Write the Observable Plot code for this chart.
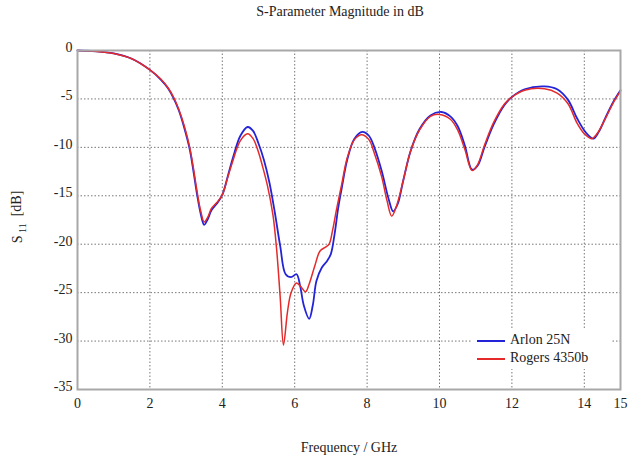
<!DOCTYPE html>
<html>
<head>
<meta charset="utf-8">
<script src="https://cdn.jsdelivr.net/npm/d3@7"></script>
<script src="https://cdn.jsdelivr.net/npm/@observablehq/plot@0.6"></script>
<style>
  body { margin: 0; background: #fff; }
  #wrap { position: relative; width: 628px; height: 459px; font-family: "Liberation Serif", "DejaVu Serif", serif; }
  #title { position: absolute; left: 0; top: 4px; width: 680px; text-align: center; font-size: 14px; color: #222; }
  #chart { position: absolute; left: 0; top: 30px; }
  #chart svg, #chart svg text { font-family: "Liberation Serif", "DejaVu Serif", serif !important; }
  #legend { position: absolute; left: 472px; top: 329px; width: 140px; height: 40px; background: #fff; font-size: 14px; color: #222; }
  .item { position: absolute; left: 5px; height: 18px; line-height: 18px; white-space: nowrap; }
  .swatch { display: inline-block; width: 28px; height: 2px; vertical-align: middle; margin-right: 5px; }
</style>
</head>
<body>
<div id="wrap">
  <div id="title">S-Parameter Magnitude in dB</div>
  <div id="chart"></div>
  <div id="legend"></div>
</div>
<script>
const seriesNames = ["Arlon 25N", "Rogers 4350b"];
const seriesColors = ["#2323d8", "#e42a2a"];

const arlonFreq = [0, 0.5, 1.0, 1.5, 2.0, 2.3, 2.5, 2.65, 2.8, 2.95, 3.1, 3.2, 3.3, 3.4, 3.5, 3.6, 3.7, 3.85, 4.0, 4.15, 4.3, 4.5, 4.7, 4.85, 5.0, 5.15, 5.3, 5.45, 5.6, 5.75, 5.9, 6.05, 6.15, 6.25, 6.4, 6.5, 6.6, 6.75, 6.9, 7.0, 7.1, 7.2, 7.3, 7.45, 7.65, 7.87, 8.05, 8.2, 8.4, 8.6, 8.72, 8.85, 9.0, 9.2, 9.45, 9.75, 10.05, 10.3, 10.5, 10.7, 10.9, 11.05, 11.25, 11.5, 11.8, 12.0, 12.35, 12.9, 13.25, 13.55, 13.8, 14.05, 14.25, 14.4, 14.6, 14.8, 15.0];
const arlonDb = [0, -0.08, -0.3, -0.85, -2.0, -3.0, -3.9, -4.9, -6.2, -8.0, -10.2, -12.4, -14.8, -16.8, -18.0, -17.4, -16.5, -15.8, -14.9, -13.0, -11.0, -8.8, -7.9, -8.3, -9.6, -11.3, -13.6, -16.7, -20.2, -23.1, -23.4, -23.1, -24.3, -26.3, -27.7, -26.3, -23.8, -22.4, -21.7, -21.0, -19.0, -16.3, -14.2, -11.3, -9.1, -8.4, -8.8, -10.0, -12.4, -15.4, -16.6, -15.8, -13.4, -10.4, -8.1, -6.7, -6.35, -6.8, -7.8, -9.8, -12.3, -11.9, -9.9, -7.6, -5.6, -4.8, -4.0, -3.7, -4.0, -5.1, -7.0, -8.5, -9.1, -8.4, -6.8, -5.3, -4.1];

const rogersFreq = [0, 0.5, 1.0, 1.5, 2.0, 2.3, 2.5, 2.65, 2.8, 2.95, 3.1, 3.2, 3.3, 3.4, 3.5, 3.6, 3.7, 3.85, 4.0, 4.15, 4.3, 4.5, 4.7, 4.85, 5.0, 5.1, 5.25, 5.4, 5.5, 5.6, 5.69, 5.8, 5.9, 6.05, 6.15, 6.3, 6.4, 6.55, 6.7, 6.85, 6.95, 7.05, 7.15, 7.3, 7.45, 7.65, 7.85, 8.05, 8.2, 8.4, 8.55, 8.68, 8.8, 9.0, 9.2, 9.45, 9.75, 10.0, 10.3, 10.5, 10.7, 10.9, 11.05, 11.25, 11.5, 11.8, 12.0, 12.35, 12.9, 13.25, 13.55, 13.8, 14.0, 14.2, 14.35, 14.6, 14.8, 15.0];
const rogersDb = [0, -0.08, -0.3, -0.85, -2.0, -2.95, -3.85, -4.8, -6.1, -7.8, -10.0, -12.1, -14.5, -16.5, -17.7, -17.2, -16.3, -15.7, -14.9, -13.1, -11.3, -9.3, -8.6, -9.1, -10.5, -11.8, -14.0, -17.0, -20.5, -25.5, -30.4, -27.0, -25.0, -24.0, -24.3, -24.9, -24.1, -22.3, -20.7, -20.3, -20.0, -18.5, -16.5, -13.8, -11.1, -9.2, -8.7, -9.2, -10.6, -13.0, -15.5, -17.1, -16.2, -13.4, -10.4, -8.2, -6.8, -6.6, -7.1, -8.2, -10.2, -12.4, -11.8, -9.7, -7.4, -5.5, -4.8, -4.1, -3.95, -4.4, -5.5, -7.5, -8.6, -9.1, -8.6, -6.9, -5.4, -4.2];

const xTicks = [0, 2, 4, 6, 8, 10, 12, 14, 15];
const yTicks = [0, -5, -10, -15, -20, -25, -30, -35];

const arlon = arlonFreq.map((f, i) => ({f, db: arlonDb[i]}));
const rogers = rogersFreq.map((f, i) => ({f, db: rogersDb[i]}));

const font = "'Liberation Serif', 'DejaVu Serif', serif";

const plot = Plot.plot({
  width: 628,
  height: 429,
  marginLeft: 77,
  marginRight: 8,
  marginTop: 20,
  marginBottom: 70,
  style: {fontFamily: font, fontSize: "14px", color: "#222", background: "#fff"},
  x: {domain: [0, 15]},
  y: {domain: [-35, 0]},
  marks: [
    Plot.gridX(xTicks.filter(t => t > 0 && t < 15), {stroke: "#777", strokeOpacity: 1, strokeDasharray: "1.5,2"}),
    Plot.gridY(yTicks.filter(t => t < 0 && t > -35), {stroke: "#777", strokeOpacity: 1, strokeDasharray: "1.5,2"}),
    Plot.axisX(xTicks, {tickSize: 0, tickPadding: 9, tickFormat: d => String(d), label: "Frequency / GHz", labelArrow: "none", labelAnchor: "center", labelOffset: 62, fontSize: 14, fontFamily: font}),
    Plot.axisY(yTicks, {tickSize: 0, tickPadding: 5, tickFormat: d => String(d), label: null, fontSize: 14, fontFamily: font, dy: -3}),
    Plot.line(arlon, {x: "f", y: "db", stroke: seriesColors[0], strokeWidth: 1.8, curve: "catmull-rom"}),
    Plot.line(rogers, {x: "f", y: "db", stroke: seriesColors[1], strokeWidth: 1.5, curve: "catmull-rom"}),
    Plot.frame({stroke: "#a8a8a8", strokeWidth: 2})
  ]
});
document.getElementById("chart").appendChild(plot);

// y-axis label with subscript
const svg = d3.select(plot);
const yl = svg.append("text")
  .attr("transform", "translate(22,187) rotate(-90)")
  .attr("text-anchor", "middle")
  .attr("fill", "#222")
  .style("font-family", font)
  .style("font-size", "14px");
yl.append("tspan").text("S");
yl.append("tspan").attr("dy", "0.35em").style("font-size", "10px").text(" 11");
yl.append("tspan").attr("dy", "-0.35em").text("  [dB]");

// legend
const legend = document.getElementById("legend");
seriesNames.forEach((name, i) => {
  const d = document.createElement("div");
  d.className = "item";
  d.style.top = (2 + i * 18) + "px";
  d.innerHTML = `<span class="swatch" style="background:${seriesColors[i]}"></span>${name}`;
  legend.appendChild(d);
});
</script>
</body>
</html>
